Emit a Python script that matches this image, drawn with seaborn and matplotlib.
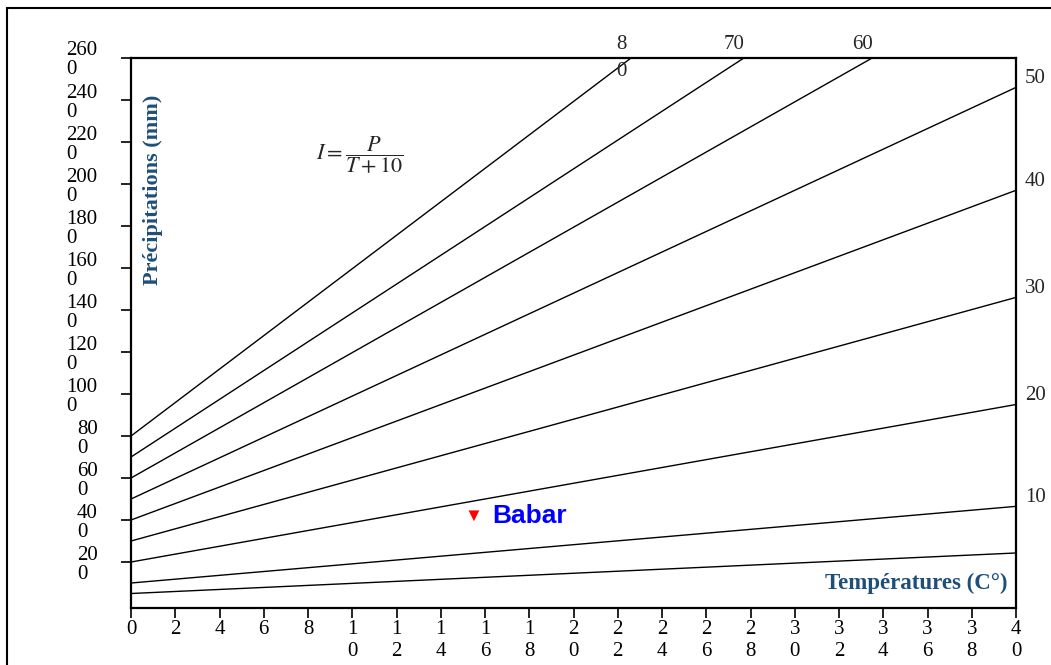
import pandas as pd
import matplotlib
matplotlib.use("Agg")
import matplotlib.pyplot as plt
import seaborn as sns
from matplotlib.patches import Rectangle

# De Martonne index lines (start at T=0, end on the frame)
index_values = [80, 70, 60, 50, 40, 30, 20, 10, 5]
p_at_zero = [800, 700, 600, 500, 400, 300, 200, 100, 50]
t_end = [22.6, 27.7, 33.5, 40, 40, 40, 40, 40, 40]
p_end = [2600, 2600, 2600, 2460, 1970, 1460, 950, 465, 243]

top_labels = {80: "8\n0", 70: "70", 60: "60"}
right_labels = {50: "50", 40: "40", 30: "30", 20: "20", 10: "10"}

x_ticks = [0, 2, 4, 6, 8, 10, 12, 14, 16, 18, 20, 22, 24, 26, 28, 30, 32, 34, 36, 38, 40]
x_tick_labels = ["0", "2", "4", "6", "8", "1\n0", "1\n2", "1\n4", "1\n6", "1\n8", "2\n0",
                 "2\n2", "2\n4", "2\n6", "2\n8", "3\n0", "3\n2", "3\n4", "3\n6", "3\n8", "4\n0"]
y_ticks = [200, 400, 600, 800, 1000, 1200, 1400, 1600, 1800, 2000, 2200, 2400, 2600]
y_tick_labels = ["20\n0", "40\n0", "60\n0", "80\n0", "100\n0", "120\n0", "140\n0",
                 "160\n0", "180\n0", "200\n0", "220\n0", "240\n0", "260\n0"]

station_name = "Babar"
station_t = 15.5
station_p = 420

rows = []
for i, p0, te, pe in zip(index_values, p_at_zero, t_end, p_end):
    rows.append({"I": i, "T": 0, "P": p0})
    rows.append({"I": i, "T": te, "P": pe})
lines = pd.DataFrame(rows)

sns.set_theme(style="white")
plt.rcParams["font.family"] = ["Liberation Serif", "DejaVu Serif"]
plt.rcParams["mathtext.fontset"] = "stix"

W, H = 1051, 665
fig = plt.figure(figsize=(W / 100, H / 100), dpi=100)
ax = fig.add_axes([131 / W, 1 - 608 / H, 885 / W, 550 / H])

sns.lineplot(data=lines, x="T", y="P", units="I", estimator=None, color="black",
             lw=1.0, ax=ax, legend=False)
sns.scatterplot(x=[station_t], y=[station_p], marker="v", color="red", s=60,
                edgecolor="none", ax=ax, legend=False)
ax.annotate(station_name, (station_t, station_p), xytext=(18, 0), textcoords="offset pixels",
            family=["Liberation Sans"], weight="bold", color="blue", fontsize=19,
            ha="left", va="center")

ax.set_xlim(0, 40)
ax.set_ylim(-19, 2600)
ax.set_xlabel("")
ax.set_ylabel("")

ax.set_xticks(x_ticks, x_tick_labels)
ax.set_yticks(y_ticks, y_tick_labels)
ax.tick_params(bottom=True, left=True, direction="out", length=7, width=1.2,
               colors="black", labelsize=15)
ax.tick_params(axis="x", pad=2)
ax.tick_params(axis="y", pad=17)
for lab in ax.get_xticklabels():
    lab.set_linespacing(1.2)
for lab in ax.get_yticklabels():
    lab.set_multialignment("left")
    lab.set_linespacing(1.0)

for s in ax.spines.values():
    s.set_color("black")
    s.set_linewidth(1.6)

# labels of the index lines
for i, te, pe in zip(index_values, t_end, p_end):
    if i in top_labels:
        dy = 0 if "\n" in top_labels[i] else 13
        ax.annotate(top_labels[i], (te, pe), xytext=(-10, dy), textcoords="offset pixels",
                    ha="center", va="center", fontsize=15, linespacing=1.55,
                    annotation_clip=False)
    if i in right_labels:
        ax.annotate(right_labels[i], (te, pe), xytext=(9, 9), textcoords="offset pixels",
                    ha="left", va="center", fontsize=15, annotation_clip=False)

ax.text(0.259, 0.824, r"$I=\dfrac{P}{T+10}$", transform=ax.transAxes,
        ha="center", va="center", fontsize=16)

title_color = "#1F4E79"
ax.text(0.025, 0.76, "Précipitations (mm)", transform=ax.transAxes, rotation=90,
        ha="center", va="center", fontsize=16, weight="bold", color=title_color)
ax.text(0.99, 0.045, "Températures (C°)", transform=ax.transAxes,
        ha="right", va="center", fontsize=16.5, weight="bold", color=title_color)

fig.add_artist(Rectangle((7 / W, -0.1), 1.2, 1 - 8 / H + 0.1, transform=fig.transFigure,
                         fill=False, lw=1.5, ec="black"))

fig.savefig("out.png", dpi=100, facecolor="white")
